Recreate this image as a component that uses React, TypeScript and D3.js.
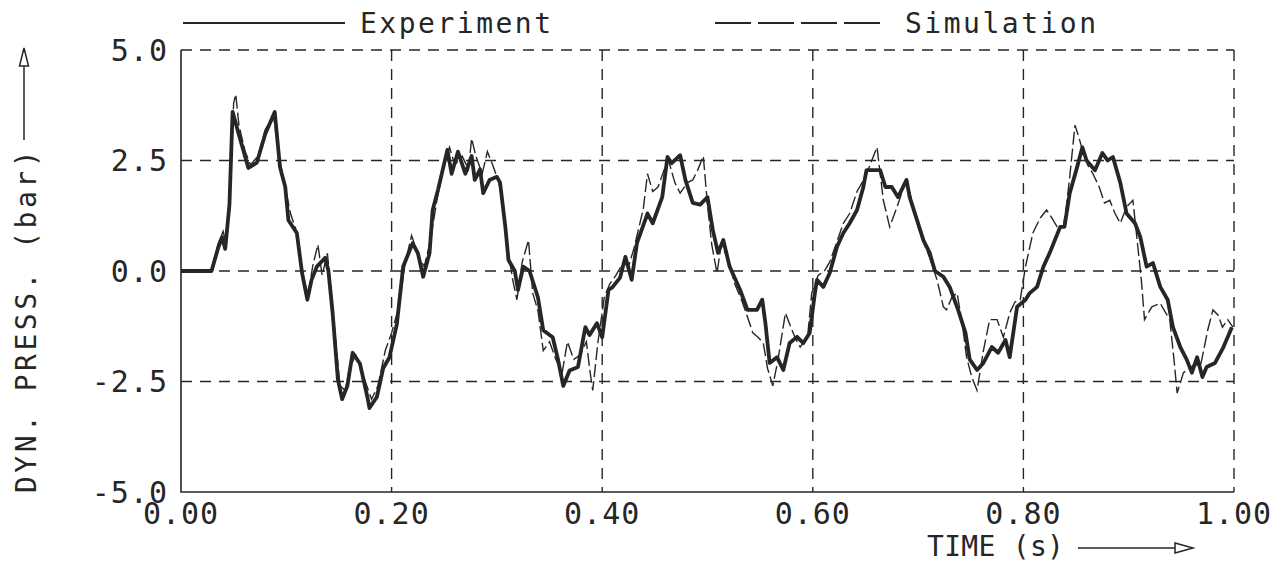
import React, { useEffect, useRef } from "react";
import * as d3 from "d3";

// measured experiment trace (time s, dyn. pressure bar)
const expTime = [
  0.0, 0.029, 0.035, 0.039, 0.042, 0.046, 0.049, 0.056, 0.064, 0.072, 0.08, 0.089, 0.094, 0.099,
  0.102, 0.11, 0.115, 0.12, 0.124, 0.129, 0.137, 0.14, 0.144, 0.149, 0.153, 0.158, 0.163, 0.17,
  0.177, 0.179, 0.186, 0.192, 0.198, 0.205, 0.211, 0.22, 0.225, 0.23, 0.236, 0.239, 0.244, 0.253,
  0.257, 0.263, 0.27, 0.276, 0.279, 0.284, 0.287, 0.293, 0.3, 0.303, 0.308, 0.311, 0.317, 0.32,
  0.325, 0.331, 0.339, 0.344, 0.353, 0.358, 0.363, 0.369, 0.377, 0.384, 0.388, 0.395, 0.4, 0.406,
  0.41, 0.417, 0.422, 0.428, 0.433, 0.443, 0.448, 0.457, 0.462, 0.466, 0.474, 0.479, 0.486, 0.493,
  0.5, 0.505, 0.51, 0.515, 0.521, 0.531, 0.538, 0.547, 0.552, 0.555, 0.559, 0.566, 0.572, 0.578,
  0.585, 0.591, 0.597, 0.602, 0.604, 0.61, 0.616, 0.623, 0.629, 0.635, 0.642, 0.648, 0.651, 0.659,
  0.664, 0.669, 0.675, 0.681, 0.689, 0.692, 0.699, 0.705, 0.711, 0.716, 0.724, 0.73, 0.738, 0.745,
  0.749, 0.756, 0.762, 0.77, 0.776, 0.783, 0.787, 0.794, 0.802, 0.806, 0.813, 0.819, 0.825, 0.835,
  0.839, 0.844, 0.851, 0.856, 0.86, 0.868, 0.875, 0.88, 0.885, 0.892, 0.898, 0.906, 0.911, 0.917,
  0.923, 0.93, 0.937, 0.942, 0.949, 0.955, 0.96, 0.965, 0.97, 0.974, 0.982, 0.99, 0.998,
];
const expPress = [
  0, 0, 0.5, 0.77, 0.5, 1.5, 3.6, 3.0, 2.33, 2.45, 3.1, 3.6, 2.35, 1.9,
  1.15, 0.86, -0.05, -0.65, -0.2, 0.1, 0.3, 0.0, -0.95, -2.45, -2.9, -2.6, -1.85, -2.1,
  -2.85, -3.1, -2.85, -2.2, -1.95, -1.2, 0.1, 0.63, 0.4, -0.13, 0.4, 1.38, 1.83, 2.74,
  2.2, 2.7, 2.2, 2.6, 2.06, 2.3, 1.76, 2.06, 2.13, 2.0, 1.0, 0.25, 0.0, -0.43,
  0.1, 0.0, -0.6, -1.34, -1.5, -2.0, -2.6, -2.25, -2.17, -1.27, -1.45, -1.18, -1.5, -0.43,
  -0.36, -0.15, 0.32, -0.2, 0.63, 1.3, 1.08, 1.67, 2.58, 2.44, 2.62, 2.06, 1.54, 1.5,
  1.67, 0.93, 0.41, 0.7, 0.1, -0.43, -0.88, -0.88, -0.65, -1.18, -2.08, -1.95, -2.24, -1.63,
  -1.49, -1.63, -1.4, -0.5, -0.2, -0.36, -0.05, 0.55, 0.86, 1.08, 1.38, 1.9, 2.28, 2.28,
  2.28, 1.9, 1.9, 1.67, 2.06, 1.67, 1.15, 0.7, 0.41, 0.0, -0.13, -0.36, -0.88, -1.4,
  -2.0, -2.24, -2.08, -1.72, -1.85, -1.56, -1.95, -0.81, -0.65, -0.5, -0.36, 0.1, 0.41, 1.0,
  1.0, 1.76, 2.35, 2.8, 2.5, 2.28, 2.67, 2.5, 2.58, 2.0, 1.3, 1.08, 0.77, 0.1,
  0.18, -0.36, -0.65, -1.27, -1.72, -2.0, -2.3, -1.95, -2.4, -2.17, -2.08, -1.72, -1.27,
];

// simulation trace
const simTime = [
  0.0, 0.029, 0.035, 0.04, 0.043, 0.047, 0.05, 0.052, 0.055, 0.061, 0.066, 0.073, 0.08, 0.088,
  0.093, 0.098, 0.104, 0.111, 0.116, 0.121, 0.125, 0.13, 0.134, 0.139, 0.142, 0.147, 0.151, 0.156,
  0.16, 0.166, 0.172, 0.178, 0.181, 0.187, 0.194, 0.2, 0.207, 0.213, 0.219, 0.226, 0.231, 0.237,
  0.243, 0.25, 0.255, 0.26, 0.267, 0.273, 0.276, 0.28, 0.286, 0.291, 0.296, 0.302, 0.307, 0.311,
  0.315, 0.319, 0.324, 0.33, 0.334, 0.339, 0.344, 0.35, 0.356, 0.362, 0.367, 0.373, 0.379, 0.385,
  0.388, 0.391, 0.396, 0.402, 0.407, 0.413, 0.42, 0.425, 0.43, 0.436, 0.439, 0.443, 0.448, 0.453,
  0.459, 0.463, 0.469, 0.474, 0.481, 0.486, 0.491, 0.496, 0.5, 0.504, 0.509, 0.513, 0.519, 0.526,
  0.533, 0.538, 0.543, 0.548, 0.553, 0.557, 0.562, 0.567, 0.574, 0.578, 0.583, 0.588, 0.595, 0.599,
  0.605, 0.611, 0.616, 0.622, 0.629, 0.635, 0.642, 0.65, 0.656, 0.661, 0.664, 0.667, 0.673, 0.68,
  0.685, 0.689, 0.694, 0.7, 0.706, 0.711, 0.718, 0.724, 0.727, 0.732, 0.737, 0.742, 0.746, 0.751,
  0.756, 0.762, 0.768, 0.775, 0.781, 0.787, 0.792, 0.797, 0.802, 0.809, 0.816, 0.822, 0.827, 0.832,
  0.838, 0.841, 0.844, 0.849, 0.853, 0.856, 0.861, 0.866, 0.872, 0.877, 0.882, 0.887, 0.892, 0.898,
  0.904, 0.908, 0.912, 0.915, 0.922, 0.93, 0.934, 0.939, 0.943, 0.946, 0.952, 0.958, 0.963, 0.968,
  0.972, 0.975, 0.98, 0.985, 0.989, 0.994, 0.999,
];
const simPress = [
  0, 0, 0.6, 0.9, 0.6, 2.0, 3.8, 4.0, 3.3, 2.7, 2.4, 2.6, 3.2, 3.5,
  2.6, 2.0, 1.3, 0.8, -0.2, -0.5, 0.1, 0.6, -0.1, 0.4, -0.3, -1.6, -2.6, -2.7,
  -2.2, -1.9, -2.3, -2.7, -2.9, -2.6, -1.8, -1.4, -0.8, 0.2, 0.8, 0.3, 0.1, 0.7,
  1.6, 2.4, 2.8, 2.4, 2.6, 2.3, 3.0, 2.6, 2.2, 2.7, 2.4, 2.0, 1.2, 0.4,
  -0.2, -0.65, 0.2, 0.7, -0.5, -0.9, -1.8, -1.6, -2.0, -2.3, -1.6, -2.0, -1.9, -1.6,
  -2.2, -2.7, -1.6, -0.6, -0.3, -0.1, 0.2, 0.1, 0.5, 1.1, 1.4, 2.2, 1.8, 1.9,
  2.3, 2.5, 2.0, 1.76, 2.0, 2.06, 2.3, 2.6, 1.5, 0.6, -0.05, 0.6, 0.3, -0.3,
  -0.7, -1.04, -1.4, -1.5, -1.63, -2.2, -2.6, -2.0, -0.95, -1.2, -1.5, -1.72, -1.5, -0.5,
  -0.1, 0.0, 0.2, 0.6, 1.08, 1.3, 1.8, 2.13, 2.5, 2.8, 2.2, 1.6, 1.0, 1.45,
  1.8, 2.06, 1.6, 1.0, 0.6, 0.3, -0.2, -0.81, -0.88, -0.6, -0.5, -1.2, -1.95, -2.4,
  -2.7, -1.8, -1.1, -1.1, -1.5, -0.95, -0.7, -0.65, 0.1, 0.86, 1.2, 1.38, 1.2, 1.0,
  1.0, 1.5, 2.13, 3.3, 3.0, 2.74, 2.4, 2.2, 1.9, 1.54, 1.6, 1.3, 1.08, 1.45,
  1.6, 0.7, -0.2, -1.1, -0.81, -0.73, -0.9, -1.1, -2.0, -2.76, -2.3, -2.2, -2.1, -2.17,
  -1.7, -1.34, -0.88, -1.0, -1.27, -1.1, -1.27,
];

const xTicks = [0, 0.2, 0.4, 0.6, 0.8, 1.0];
const yTicks = [-5, -2.5, 0, 2.5, 5];

const INK = "#262626";
const FONT = "'DejaVu Sans Mono', monospace";

export default function App() {
  const ref = useRef<SVGSVGElement>(null);

  useEffect(() => {
    const width = 1283,
      height = 564;
    const left = 181,
      right = 1234,
      top = 50,
      bottom = 492;

    const svg = d3.select(ref.current);
    svg.selectAll("*").remove();

    const x = d3.scaleLinear().domain([0, 1]).range([left, right]);
    const y = d3.scaleLinear().domain([-5, 5]).range([bottom, top]);

    svg.append("rect").attr("width", width).attr("height", height).attr("fill", "#fff");

    // dashed grid incl. top and right frame
    const grid = svg.append("g").attr("stroke", INK).attr("stroke-width", 1.4).attr("stroke-dasharray", "11,8");
    yTicks.filter((d) => d > -5).forEach((d) => {
      grid.append("line").attr("x1", left).attr("x2", right).attr("y1", y(d)).attr("y2", y(d));
    });
    xTicks.filter((d) => d > 0).forEach((d) => {
      grid.append("line").attr("x1", x(d)).attr("x2", x(d)).attr("y1", top).attr("y2", bottom);
    });

    // solid left / bottom axes
    svg.append("path")
      .attr("d", `M${left},${top}V${bottom}H${right}`)
      .attr("fill", "none")
      .attr("stroke", INK)
      .attr("stroke-width", 1.6);

    const line = d3
      .line<number>()
      .x((d, i) => x(simTime[i]))
      .y((d) => y(d));

    svg.append("path")
      .attr("d", line(simPress))
      .attr("fill", "none")
      .attr("stroke", INK)
      .attr("stroke-width", 1.4)
      .attr("stroke-dasharray", "13,4");

    const expLine = d3
      .line<number>()
      .x((d, i) => x(expTime[i]))
      .y((d) => y(d));

    svg.append("path")
      .attr("d", expLine(expPress))
      .attr("fill", "none")
      .attr("stroke", INK)
      .attr("stroke-width", 3.8)
      .attr("stroke-linejoin", "round");

    // tick labels
    const tl = svg.append("g").attr("font-family", FONT).attr("font-size", 30).attr("fill", INK).attr("letter-spacing", 1);
    yTicks.forEach((d) => {
      tl.append("text")
        .attr("x", 168)
        .attr("y", y(d) + 2)
        .attr("text-anchor", "end")
        .attr("dominant-baseline", "middle")
        .text(d.toFixed(1));
    });
    xTicks.forEach((d) => {
      tl.append("text")
        .attr("x", x(d))
        .attr("y", 524)
        .attr("text-anchor", "middle")
        .text(d.toFixed(2));
    });

    // axis titles
    const lab = svg.append("g").attr("font-family", FONT).attr("font-size", 28).attr("fill", INK);
    lab.append("text").attr("x", 927).attr("y", 556).attr("letter-spacing", 0.3).text("TIME (s)");
    lab.append("text")
      .attr("transform", "translate(36,320) rotate(-90)")
      .attr("text-anchor", "middle")
      .attr("letter-spacing", 3.5)
      .text("DYN. PRESS. (bar)");

    const arrows = svg.append("g").attr("stroke", INK).attr("stroke-width", 1.5).attr("fill", "#fff");
    arrows.append("line").attr("x1", 1078).attr("x2", 1175).attr("y1", 548).attr("y2", 548);
    arrows.append("path").attr("d", "M1175,543L1193,548L1175,553Z");
    arrows.append("line").attr("x1", 24).attr("x2", 24).attr("y1", 140).attr("y2", 66);
    arrows.append("path").attr("d", "M19.5,66L24,48L28.5,66Z");

    // legend
    const leg = svg.append("g");
    leg.append("line").attr("x1", 183).attr("x2", 345).attr("y1", 23).attr("y2", 23)
      .attr("stroke", INK).attr("stroke-width", 2);
    leg.append("text").attr("x", 360).attr("y", 33).attr("font-family", FONT).attr("font-size", 28)
      .attr("letter-spacing", 2.5).attr("fill", INK).text("Experiment");
    leg.append("line").attr("x1", 715).attr("x2", 882).attr("y1", 23).attr("y2", 23)
      .attr("stroke", INK).attr("stroke-width", 2).attr("stroke-dasharray", "36,7");
    leg.append("text").attr("x", 905).attr("y", 33).attr("font-family", FONT).attr("font-size", 28)
      .attr("letter-spacing", 2.5).attr("fill", INK).text("Simulation");
  }, []);

  return (
    <svg
      ref={ref}
      width={1283}
      height={564}
      style={{ position: "absolute", left: 0, top: 0, display: "block" }}
    />
  );
}
